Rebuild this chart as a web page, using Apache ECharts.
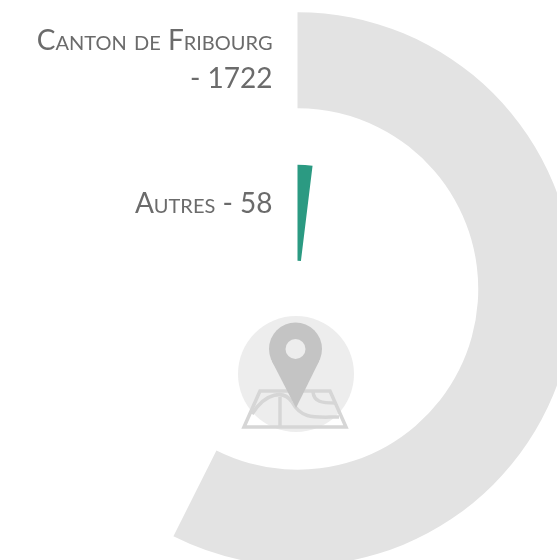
<!DOCTYPE html>
<html>
<head>
<meta charset="utf-8">
<style>
  html, body { margin: 0; padding: 0; background: #fff; }
  #chart { width: 557px; height: 560px; }
</style>
<script src="https://cdn.jsdelivr.net/npm/echarts@6/dist/echarts.min.js"></script>
</head>
<body>
<div id="chart"></div>
<script>
const categories = ['Autres', 'Canton de Fribourg']
const values = [58, 1722]
const barColors = ['#2b9a82', '#e3e3e3']
const angleMax = 3000

const myChart = echarts.init(document.getElementById('chart'))
const iconLine = { stroke: '#d6d6d6', lineWidth: 3.5, fill: null }
const labelFont = { color: '#6b6b6b', fontFamily: 'Lato', fontWeight: 400, fontStyle: 'small-caps', fontSize: 28, lineHeight: 38 }

myChart.setOption({
  animation: false,
  backgroundColor: '#fff',
  polar: { center: [297.5, 289], radius: [0, 305] },
  angleAxis: { type: 'value', min: 0, max: angleMax, startAngle: 90, clockwise: true, show: false },
  radiusAxis: {
    type: 'category',
    data: categories,
    axisLine: { show: false },
    axisTick: { show: false },
    splitLine: { show: false },
    z: 10,
    axisLabel: Object.assign({
      show: true,
      interval: 0,
      hideOverlap: false,
      showMinLabel: true,
      showMaxLabel: true,
      margin: 25,
      width: 240,
      overflow: 'break',
      align: 'right',
      // the single line label sits above its bar's centre
      rich: { up: Object.assign({ padding: [0, 0, 18, 0] }, labelFont) },
      formatter: function (name, i) {
        const text = name + ' - ' + values[i]
        return i === 0 ? '{up|' + text + '}' : text
      }
    }, labelFont)
  },
  series: [{
    type: 'bar',
    coordinateSystem: 'polar',
    barWidth: 96,
    data: values.map(function (v, i) { return { value: v, itemStyle: { color: barColors[i] } } })
  }],
  // map pin icon in the middle of the rings
  graphic: [
    { type: 'circle', shape: { cx: 296, cy: 374, r: 58 }, style: { fill: '#ededed' } },
    { type: 'polygon', shape: { points: [[260, 391], [330, 391], [346, 427], [244, 427]] }, style: iconLine },
    { type: 'line', shape: { x1: 280, y1: 397, x2: 280, y2: 427 }, style: iconLine },
    { type: 'bezierCurve', shape: { x1: 252, y1: 414, cpx1: 266, cpy1: 392, cpx2: 284, cpy2: 390, x2: 292, y2: 402 }, style: iconLine },
    { type: 'bezierCurve', shape: { x1: 292, y1: 402, cpx1: 302, cpy1: 420, cpx2: 315, cpy2: 417, x2: 339, y2: 417 }, style: iconLine },
    { type: 'bezierCurve', shape: { x1: 313, y1: 392, cpx1: 314, cpy1: 402, cpx2: 322, cpy2: 403, x2: 335, y2: 403 }, style: iconLine },
    { type: 'circle', shape: { cx: 295.5, cy: 349, r: 26.5 }, style: { fill: '#c4c4c4' } },
    { type: 'polygon', shape: { points: [[271.8, 361], [319.2, 361], [296, 408]] }, style: { fill: '#c4c4c4' } },
    { type: 'circle', shape: { cx: 295.5, cy: 349, r: 10 }, style: { fill: '#ededed' } }
  ]
})
</script>
</body>
</html>
